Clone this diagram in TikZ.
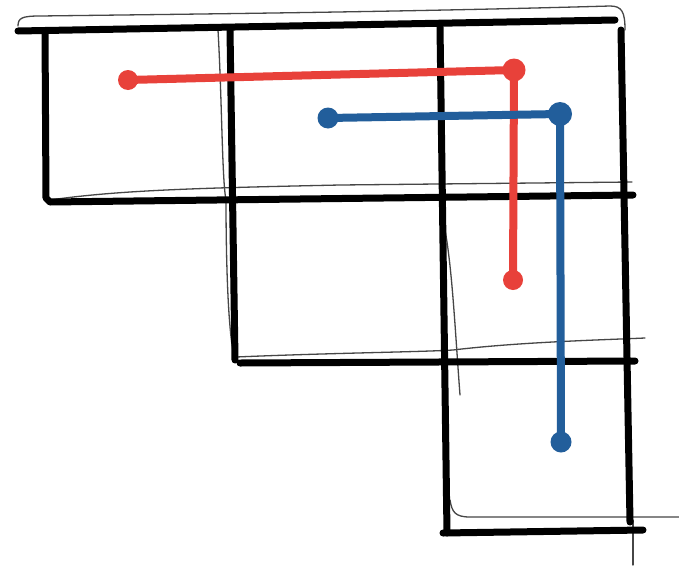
\documentclass[tikz,border=0pt]{standalone}
\usetikzlibrary{calc}
\definecolor{pathred}{RGB}{232,65,58}
\definecolor{pathblue}{RGB}{34,94,155}
\definecolor{sketch}{RGB}{70,70,70}
\begin{document}
\begin{tikzpicture}[x=1pt,y=-1pt,
  gridline/.style={line width=7pt,line cap=round,line join=round,black},
  pencil/.style={line width=1.3pt,sketch,line cap=round},
  route/.style={line width=8pt,line cap=round,line join=round},
  stop/.style={circle,inner sep=0pt,minimum size=#1},
  stop/.default=20pt]
\useasboundingbox[fill=white] (0,0) rectangle (679,565);

% faint pencil guide strokes
\draw[pencil] (18,26) .. controls (18,18) and (22,16) .. (40,16)
  .. controls (200,14) and (400,12) .. (610,6)
  .. controls (622,6) and (625,12) .. (625,30);
\draw[pencil] (218,30) .. controls (222,100) and (222,180) .. (226,200)
  .. controls (226,260) and (228,330) .. (234,356);
\draw[pencil] (50,200) .. controls (120,190) and (200,188) .. (340,185) -- (632,182);
\draw[pencil] (443,220) .. controls (452,260) and (455,330) .. (460,395);
\draw[pencil] (236,357) .. controls (330,353) and (420,352) .. (453,350)
  .. controls (520,342) and (600,340) .. (645,338);
\draw[pencil] (450,500) .. controls (452,512) and (455,517) .. (470,517) -- (679,517);
\draw[pencil] (633,520) -- (633,565);

% heavy grid of cells
\draw[gridline] (18,31) -- (615,20);
\draw[gridline] (45,31) -- (46,198) -- (50,202) -- (633,195);
\draw[gridline] (230,30) -- (235,360);
\draw[gridline] (440,27) -- (447,533);
\draw[gridline] (621,30) -- (630,522);
\draw[gridline] (240,363) -- (635,361);
\draw[gridline] (443,533) -- (643,530);

% red route
\coordinate (rA) at (128,80);
\coordinate (rB) at (514,70);
\coordinate (rC) at (513,280);
\draw[route,pathred] (rA) -- (rB) -- (rC);
\node[stop=20pt,fill=pathred] (rAdot) at (rA) {};
\node[stop=23pt,fill=pathred] (rBdot) at (rB) {};
\node[stop=20pt,fill=pathred] (rCdot) at (rC) {};

% blue route
\coordinate (bA) at (328,118);
\coordinate (bB) at (560,114);
\coordinate (bC) at (561,442);
\draw[route,pathblue] (bA) -- (bB) -- (bC);
\node[stop=21pt,fill=pathblue] (bAdot) at (bA) {};
\node[stop=24pt,fill=pathblue] (bBdot) at (bB) {};
\node[stop=21pt,fill=pathblue] (bCdot) at (bC) {};
\end{tikzpicture}
\end{document}
